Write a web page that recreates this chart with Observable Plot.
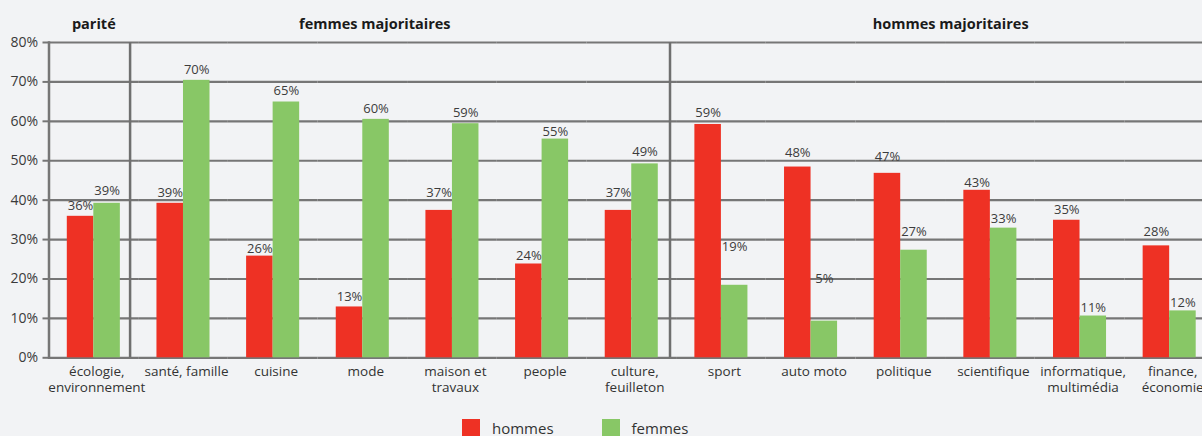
<!DOCTYPE html>
<html><head><meta charset="utf-8">
<script src="https://cdn.jsdelivr.net/npm/d3@7"></script>
<script src="https://cdn.jsdelivr.net/npm/@observablehq/plot@0.6"></script>
<style>
html,body{margin:0;padding:0;background:#f2f3f5;overflow:hidden;width:1202px;height:436px}
#chart{width:1214px}
#chart svg{display:block;max-width:none !important}
#legend{display:flex;padding-left:462px;height:26px;font:15px "Open Sans",sans-serif;color:#333;line-height:18px}
.item{display:flex;align-items:flex-start;margin-top:9px;margin-right:48px}
.sw{width:18px;height:18px;margin-right:12px}
</style></head><body>
<div id="chart"></div><div id="legend"></div>
<script>
const categories = ["écologie,\nenvironnement", "santé, famille", "cuisine", "mode", "maison et\ntravaux", "people", "culture,\nfeuilleton", "sport", "auto moto", "politique", "scientifique", "informatique,\nmultimédia", "finance,\néconomie"];
const series = ["hommes", "femmes"];
const colors = ["#ee3124", "#88c766"];
const hommes = [35.9, 39.2, 25.8, 12.9, 37.4, 23.8, 37.4, 59.2, 48.4, 46.8, 42.5, 34.9, 28.4];
const femmes = [39.2, 70.4, 64.9, 60.5, 59.4, 55.5, 49.2, 18.4, 9.3, 27.3, 32.9, 10.6, 11.9];
const hommesLabels = [36, 39, 26, 13, 37, 24, 37, 59, 48, 47, 43, 35, 28];
const femmesLabels = [39, 70, 65, 60, 59, 55, 49, 19, 5, 27, 33, 11, 12];
// level (in %) at which each printed label sits in the picture
const hommesLabelAt = [37.4, 40.9, 26.5, 14.3, 40.9, 24.7, 40.9, 61.2, 51.0, 50.0, 43.3, 36.4, 30.8];
const femmesLabelAt = [41.2, 72.1, 66.6, 62.0, 61.0, 56.4, 51.1, 27.2, 19.1, 31.0, 34.3, 11.7, 12.8];
const yTicks = [0, 10, 20, 30, 40, 50, 60, 70, 80];
const groups = ["parité", "femmes majoritaires", "hommes majoritaires"];

const data = categories.flatMap((c, i) => [
  {cat: c, serie: series[0], value: hommes[i], label: hommesLabels[i], at: hommesLabelAt[i]},
  {cat: c, serie: series[1], value: femmes[i], label: femmesLabels[i], at: femmesLabelAt[i]}
]);

const titleStyle = {frameAnchor: "top", lineAnchor: "bottom", dy: -14, fontWeight: "bold", fontSize: 14.5, fill: "#1a1a1a"};
const sepStyle = {x: () => "femmes", y1: 0, y2: 80, stroke: "#6f6f6f", strokeWidth: 2.5};

const chart = Plot.plot({
  width: 1214, height: 410,
  marginLeft: 48.5, marginRight: 0, marginTop: 42, marginBottom: 52.7,
  style: {background: "transparent", fontFamily: "'Open Sans', sans-serif", overflow: "visible", maxWidth: "none"},
  fx: {domain: categories, padding: 0, round: false, axis: null},
  x: {domain: series, paddingInner: 0, paddingOuter: 0.69, round: false, axis: null},
  y: {domain: [0, 80], axis: null},
  color: {domain: series, range: colors},
  marks: [
    Plot.ruleY(yTicks, {stroke: "#767676", strokeWidth: 2.2}),
    Plot.barY(data, {fx: "cat", x: "serie", y: "value", fill: "serie"}),
    Plot.ruleX([categories[0]], {...sepStyle, fx: d => d, dx: 23}),
    Plot.ruleX([categories[6]], {...sepStyle, fx: d => d, dx: 25}),
    Plot.text(data, {fx: "cat", x: "serie", y: "at", text: d => d.label + "%", lineAnchor: "bottom", fontSize: 13, fill: "#3c3c3c"}),
    Plot.text(categories, {fx: d => d, text: d => d, frameAnchor: "bottom", lineAnchor: "top", dy: 6, dx: 3, fontSize: 13.5, lineHeight: 1.22, fill: "#333"}),
    Plot.text([groups[0]], {...titleStyle, fx: () => categories[0]}),
    Plot.text([groups[1]], {...titleStyle, fx: () => categories[3], dx: 12}),
    Plot.text([groups[2]], {...titleStyle, fx: () => categories[9], dx: 50}),
    Plot.axisY(yTicks, {tickFormat: d => d + "%", tickSize: 6, tickPadding: 5, stroke: "#767676", strokeWidth: 2, fill: "#3a3a3a", fontSize: 14, label: null}),
    Plot.frame({anchor: "left", facetAnchor: "left", stroke: "#767676", strokeWidth: 2.5})
  ]
});
document.getElementById("chart").appendChild(chart);

const legend = document.getElementById("legend");
series.forEach((s, i) => {
  const item = document.createElement("div");
  item.className = "item";
  const sw = document.createElement("div");
  sw.className = "sw";
  sw.style.background = colors[i];
  const t = document.createElement("span");
  t.textContent = s;
  item.appendChild(sw); item.appendChild(t);
  legend.appendChild(item);
});
</script>
</body></html>
